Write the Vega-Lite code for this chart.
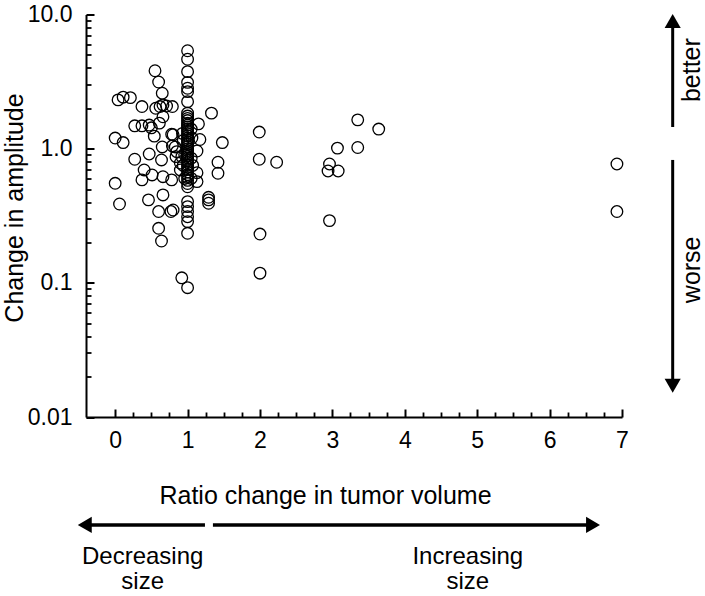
{
  "$schema": "https://vega.github.io/schema/vega-lite/v6.json",
  "width": 536,
  "height": 402.5,
  "autosize": "none",
  "padding": {"left": 86, "top": 14.5, "right": 83, "bottom": 179},
  "background": "white",
  "config": {
    "view": {"stroke": null},
    "font": "Liberation Sans",
    "axis": {"labelFont": "Liberation Sans", "titleFont": "Liberation Sans", "labelColor": "black", "titleColor": "black", "tickColor": "black", "domainColor": "black", "grid": false}
  },
  "datasets": {
    "pts": [
      {"ratio": 0.55, "amp": 3.81}, {"ratio": 0.60, "amp": 3.14}, {"ratio": 0.65, "amp": 2.59},
      {"ratio": 0.04, "amp": 2.31}, {"ratio": 0.11, "amp": 2.42}, {"ratio": 0.21, "amp": 2.40},
      {"ratio": 0.37, "amp": 2.06}, {"ratio": 0.56, "amp": 2.00}, {"ratio": 0.62, "amp": 2.06},
      {"ratio": 0.71, "amp": 2.08}, {"ratio": 0.79, "amp": 2.06}, {"ratio": 0.66, "amp": 1.73},
      {"ratio": 0.27, "amp": 1.48}, {"ratio": 0.37, "amp": 1.48}, {"ratio": 0.47, "amp": 1.50},
      {"ratio": 0.50, "amp": 1.43}, {"ratio": 0.61, "amp": 1.55}, {"ratio": 0.78, "amp": 1.28},
      {"ratio": 0.54, "amp": 1.24}, {"ratio": 0.0, "amp": 1.20}, {"ratio": 0.11, "amp": 1.11},
      {"ratio": 0.65, "amp": 1.03}, {"ratio": 0.79, "amp": 1.05}, {"ratio": 0.47, "amp": 0.913},
      {"ratio": 0.27, "amp": 0.834}, {"ratio": 0.64, "amp": 0.824}, {"ratio": 0.40, "amp": 0.694},
      {"ratio": 0.51, "amp": 0.637}, {"ratio": 0.37, "amp": 0.585}, {"ratio": 0.66, "amp": 0.618},
      {"ratio": 0.78, "amp": 0.585}, {"ratio": 0.0, "amp": 0.552}, {"ratio": 0.46, "amp": 0.415},
      {"ratio": 0.66, "amp": 0.452}, {"ratio": 0.06, "amp": 0.387}, {"ratio": 0.60, "amp": 0.340},
      {"ratio": 0.77, "amp": 0.340}, {"ratio": 0.60, "amp": 0.255}, {"ratio": 0.64, "amp": 0.205},
      {"ratio": 0.85, "amp": 0.95}, {"ratio": 0.84, "amp": 0.872}, {"ratio": 0.90, "amp": 0.782},
      {"ratio": 0.90, "amp": 0.694}, {"ratio": 0.92, "amp": 0.872}, {"ratio": 0.80, "amp": 1.27},
      {"ratio": 0.80, "amp": 0.349}, {"ratio": 0.66, "amp": 2.12}, {"ratio": 0.83, "amp": 1.03},
      {"ratio": 0.92, "amp": 0.109},
      {"ratio": 0.93, "amp": 1.30}, {"ratio": 0.94, "amp": 1.15}, {"ratio": 0.96, "amp": 0.90},
      {"ratio": 0.94, "amp": 0.75}, {"ratio": 0.96, "amp": 0.60}, {"ratio": 1.05, "amp": 1.40},
      {"ratio": 1.06, "amp": 1.20}, {"ratio": 1.05, "amp": 0.85}, {"ratio": 1.07, "amp": 0.75},
      {"ratio": 1.05, "amp": 0.60},
      {"ratio": 1.33, "amp": 1.84}, {"ratio": 1.48, "amp": 1.11}, {"ratio": 1.42, "amp": 0.792},
      {"ratio": 1.42, "amp": 0.656}, {"ratio": 1.29, "amp": 0.434}, {"ratio": 1.29, "amp": 0.415},
      {"ratio": 1.29, "amp": 0.392}, {"ratio": 1.15, "amp": 1.53}, {"ratio": 1.17, "amp": 1.17},
      {"ratio": 1.13, "amp": 0.961}, {"ratio": 1.13, "amp": 0.662}, {"ratio": 1.13, "amp": 0.568},
      {"ratio": 1.0, "amp": 5.37}, {"ratio": 1.0, "amp": 4.64}, {"ratio": 1.0, "amp": 3.75},
      {"ratio": 1.0, "amp": 3.12}, {"ratio": 1.0, "amp": 2.82}, {"ratio": 1.0, "amp": 2.66},
      {"ratio": 1.0, "amp": 2.24}, {"ratio": 1.0, "amp": 1.84}, {"ratio": 1.0, "amp": 1.75},
      {"ratio": 1.0, "amp": 1.68}, {"ratio": 1.0, "amp": 1.62}, {"ratio": 1.0, "amp": 1.55},
      {"ratio": 1.0, "amp": 1.50}, {"ratio": 1.0, "amp": 1.45}, {"ratio": 1.0, "amp": 1.40},
      {"ratio": 1.0, "amp": 1.35}, {"ratio": 1.0, "amp": 1.30}, {"ratio": 1.0, "amp": 1.25},
      {"ratio": 1.0, "amp": 1.20}, {"ratio": 1.0, "amp": 1.16}, {"ratio": 1.0, "amp": 1.12},
      {"ratio": 1.0, "amp": 1.08}, {"ratio": 1.0, "amp": 1.04}, {"ratio": 1.0, "amp": 1.00},
      {"ratio": 1.0, "amp": 0.97}, {"ratio": 1.0, "amp": 0.94}, {"ratio": 1.0, "amp": 0.91},
      {"ratio": 1.0, "amp": 0.88}, {"ratio": 1.0, "amp": 0.85}, {"ratio": 1.0, "amp": 0.82},
      {"ratio": 1.0, "amp": 0.79}, {"ratio": 1.0, "amp": 0.76}, {"ratio": 1.0, "amp": 0.73},
      {"ratio": 1.0, "amp": 0.70}, {"ratio": 1.0, "amp": 0.67}, {"ratio": 1.0, "amp": 0.64},
      {"ratio": 1.0, "amp": 0.61}, {"ratio": 1.0, "amp": 0.58}, {"ratio": 1.0, "amp": 0.55},
      {"ratio": 1.0, "amp": 0.52}, {"ratio": 1.0, "amp": 0.403}, {"ratio": 1.0, "amp": 0.370},
      {"ratio": 1.0, "amp": 0.340}, {"ratio": 1.0, "amp": 0.311}, {"ratio": 1.0, "amp": 0.286},
      {"ratio": 1.0, "amp": 0.234}, {"ratio": 1.0, "amp": 0.092},
      {"ratio": 1.99, "amp": 1.33}, {"ratio": 1.99, "amp": 0.834}, {"ratio": 2.23, "amp": 0.792},
      {"ratio": 2.0, "amp": 0.231}, {"ratio": 2.0, "amp": 0.118},
      {"ratio": 3.35, "amp": 1.64}, {"ratio": 3.64, "amp": 1.40}, {"ratio": 3.07, "amp": 1.01},
      {"ratio": 3.35, "amp": 1.02}, {"ratio": 2.96, "amp": 0.769}, {"ratio": 2.94, "amp": 0.682},
      {"ratio": 3.08, "amp": 0.682}, {"ratio": 2.96, "amp": 0.291},
      {"ratio": 6.93, "amp": 0.769}, {"ratio": 6.93, "amp": 0.340}
    ],
    "hArrows": [
      {"from": -0.46, "to": 1.24, "level": 0.00157},
      {"from": 1.35, "to": 6.65, "level": 0.00157}
    ],
    "vArrows": [
      {"pos": 7.7, "from": 8.9, "to": 1.45},
      {"pos": 7.7, "from": 0.824, "to": 0.0175}
    ],
    "heads": [
      {"px": -0.42, "py": 0.00157, "dir": "left"},
      {"px": 6.6, "py": 0.00157, "dir": "right"},
      {"px": 7.7, "py": 8.95, "dir": "up"},
      {"px": 7.7, "py": 0.0171, "dir": "down"}
    ],
    "vLabels": [
      {"label": "better", "px": 7.97, "py": 3.85},
      {"label": "worse", "px": 7.97, "py": 0.125}
    ],
    "hLabels": [
      {"label": "Decreasing\nsize", "px": 0.38, "py": 0.000907},
      {"label": "Increasing\nsize", "px": 4.87, "py": 0.000907}
    ]
  },
  "layer": [
    {
      "data": {"name": "pts"},
      "mark": {"type": "point", "shape": "circle", "filled": false, "stroke": "black", "strokeWidth": 1.3, "size": 135, "opacity": 1},
      "encoding": {
        "x": {
          "field": "ratio", "type": "quantitative",
          "scale": {"domain": [-0.403, 7], "nice": false, "zero": false},
          "axis": {
            "orient": "bottom", "values": [0, 1, 2, 3, 4, 5, 6, 7], "format": "d",
            "ticks": false, "tickSize": 0, "domainWidth": 2, "labelPadding": 12,
            "labelFontSize": 23, "labelFlush": false,
            "title": "Ratio change in tumor volume", "titleFontSize": 25, "titleFontWeight": "normal",
            "titleX": 239, "titleY": 78, "titleBaseline": "middle", "titleAnchor": null, "titleAlign": "center"
          }
        },
        "y": {
          "field": "amp", "type": "quantitative",
          "scale": {"type": "log", "domain": [0.01, 10], "nice": false},
          "axis": {
            "orient": "left", "values": [0.01, 0.1, 1, 10],
            "labelExpr": "datum.value >= 9 ? '10.0' : datum.value >= 0.9 ? '1.0' : datum.value >= 0.09 ? '0.1' : '0.01'",
            "ticks": false, "tickSize": 0, "domainWidth": 2, "labelPadding": 14,
            "labelFontSize": 23, "labelFlush": false,
            "title": "Change in amplitude", "titleFontSize": 25, "titleFontWeight": "normal",
            "titleX": -72, "titleY": 193, "titleBaseline": "middle", "titleAlign": "center", "titleAngle": 270
          }
        }
      }
    },
    {
      "data": {"name": "pts"},
      "mark": {"type": "point", "opacity": 0},
      "encoding": {
        "x": {
          "field": "ratio", "type": "quantitative",
          "scale": {"domain": [-0.403, 7], "nice": false, "zero": false},
          "axis": {
            "orient": "bottom", "offset": -8, "values": [0, 1, 2, 3, 4, 5, 6, 7],
            "labels": false, "domain": false, "ticks": true, "tickSize": 8, "tickWidth": 2, "tickColor": "black", "tickOpacity": 1, "title": null
          }
        },
        "y": {
          "field": "amp", "type": "quantitative",
          "scale": {"type": "log", "domain": [0.01, 10], "nice": false},
          "axis": {
            "orient": "left", "offset": -8, "values": [0.01, 0.1, 1, 10],
            "labels": false, "domain": false, "ticks": true, "tickSize": 8, "tickWidth": 2, "tickColor": "black", "tickOpacity": 1, "title": null
          }
        }
      }
    },
    {
      "data": {"name": "pts"},
      "mark": {"type": "point", "opacity": 0},
      "encoding": {
        "x": {
          "field": "ratio", "type": "quantitative",
          "scale": {"domain": [-0.403, 7], "nice": false, "zero": false},
          "axis": {
            "orient": "bottom", "offset": -5,
            "values": [0.25, 0.5, 0.75, 1.25, 1.5, 1.75, 2.25, 2.5, 2.75, 3.25, 3.5, 3.75, 4.25, 4.5, 4.75, 5.25, 5.5, 5.75, 6.25, 6.5, 6.75],
            "labels": false, "domain": false, "ticks": true, "tickSize": 5, "tickWidth": 1.8, "tickColor": "black", "tickOpacity": 1, "title": null
          }
        },
        "y": {
          "field": "amp", "type": "quantitative",
          "scale": {"type": "log", "domain": [0.01, 10], "nice": false},
          "axis": {
            "orient": "left", "offset": -5,
            "values": [0.02, 0.03, 0.04, 0.05, 0.06, 0.07, 0.08, 0.09, 0.2, 0.3, 0.4, 0.5, 0.6, 0.7, 0.8, 0.9, 2, 3, 4, 5, 6, 7, 8, 9],
            "labels": false, "domain": false, "ticks": true, "tickSize": 5, "tickWidth": 1.8, "tickColor": "black", "tickOpacity": 1, "title": null
          }
        }
      }
    },
    {
      "data": {"name": "hArrows"},
      "mark": {"type": "rule", "stroke": "black", "strokeWidth": 3.5, "clip": false},
      "encoding": {
        "x": {"field": "from", "type": "quantitative", "scale": {"domain": [-0.403, 7], "nice": false, "zero": false}, "axis": null},
        "x2": {"field": "to"},
        "y": {"field": "level", "type": "quantitative", "scale": {"type": "log", "domain": [0.01, 10], "nice": false}, "axis": null}
      }
    },
    {
      "data": {"name": "vArrows"},
      "mark": {"type": "rule", "stroke": "black", "strokeWidth": 3, "clip": false},
      "encoding": {
        "x": {"field": "pos", "type": "quantitative", "scale": {"domain": [-0.403, 7], "nice": false, "zero": false}, "axis": null},
        "y": {"field": "from", "type": "quantitative", "scale": {"type": "log", "domain": [0.01, 10], "nice": false}, "axis": null},
        "y2": {"field": "to"}
      }
    },
    {
      "data": {"name": "heads"},
      "mark": {"type": "point", "filled": true, "color": "black", "opacity": 1, "size": 260, "clip": false},
      "encoding": {
        "x": {"field": "px", "type": "quantitative", "scale": {"domain": [-0.403, 7], "nice": false, "zero": false}, "axis": null},
        "y": {"field": "py", "type": "quantitative", "scale": {"type": "log", "domain": [0.01, 10], "nice": false}, "axis": null},
        "shape": {"field": "dir", "type": "nominal", "scale": {"domain": ["left", "right", "up", "down"], "range": ["triangle-left", "triangle-right", "triangle-up", "triangle-down"]}, "legend": null}
      }
    },
    {
      "data": {"name": "vLabels"},
      "mark": {"type": "text", "angle": 270, "fontSize": 25, "font": "Liberation Sans", "color": "black", "align": "center", "baseline": "middle", "clip": false},
      "encoding": {
        "x": {"field": "px", "type": "quantitative", "scale": {"domain": [-0.403, 7], "nice": false, "zero": false}, "axis": null},
        "y": {"field": "py", "type": "quantitative", "scale": {"type": "log", "domain": [0.01, 10], "nice": false}, "axis": null},
        "text": {"field": "label"}
      }
    },
    {
      "data": {"name": "hLabels"},
      "mark": {"type": "text", "fontSize": 24, "lineBreak": "\n", "lineHeight": 25, "font": "Liberation Sans", "color": "black", "align": "center", "baseline": "middle", "clip": false},
      "encoding": {
        "x": {"field": "px", "type": "quantitative", "scale": {"domain": [-0.403, 7], "nice": false, "zero": false}, "axis": null},
        "y": {"field": "py", "type": "quantitative", "scale": {"type": "log", "domain": [0.01, 10], "nice": false}, "axis": null},
        "text": {"field": "label"}
      }
    }
  ],
  "resolve": {"axis": {"x": "independent", "y": "independent"}}
}
